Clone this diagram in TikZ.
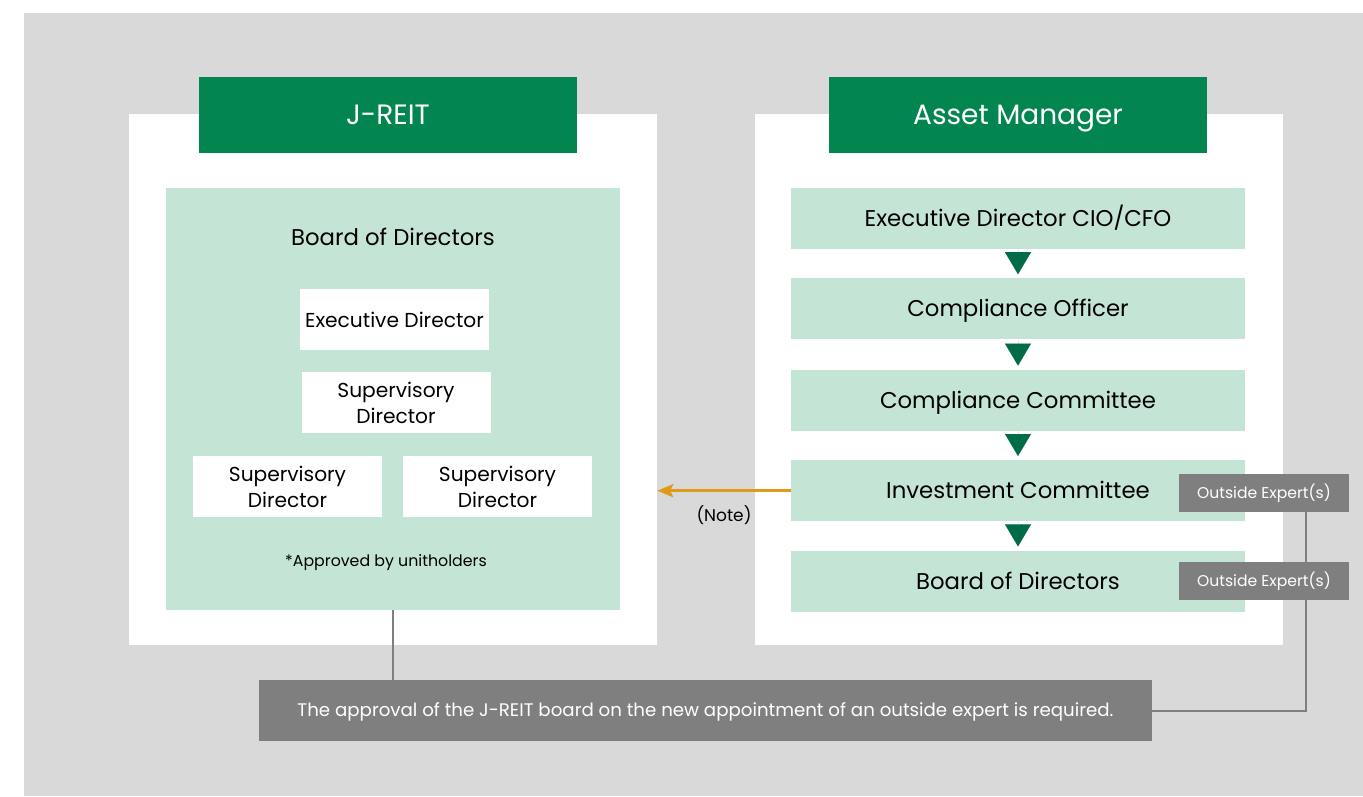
\documentclass[tikz,border=0pt]{standalone}
\usepackage{fontspec}
\setmainfont{Poppins}
\usetikzlibrary{arrows.meta,positioning}

\definecolor{bggrey}{HTML}{D9D9D9}
\definecolor{hdgreen}{HTML}{03854F}
\definecolor{mint}{HTML}{C4E5D5}
\definecolor{flowgreen}{HTML}{006B47}
\definecolor{boxgrey}{HTML}{7F7F7F}
\definecolor{notearrow}{HTML}{E09A1A}

\begin{document}
\begin{tikzpicture}[
  x=1pt,y=-1pt,
  font=\fontsize{22.8}{27}\selectfont,
  node distance=29pt,
  caps/.style={text height=#1,text depth=0pt},
  panel/.style={fill=white,inner sep=0pt,minimum width=528pt,minimum height=531pt},
  head/.style={caps=19.6pt,fill=hdgreen,text=white,inner sep=0pt,minimum width=378pt,minimum height=76pt,font=\fontsize{28}{32}\selectfont},
  mint/.style={caps=16pt,fill=mint,inner sep=0pt,minimum width=454pt,minimum height=61pt},
  wbox/.style={fill=white,inner sep=0pt,align=center,minimum width=189pt,minimum height=61pt,font=\fontsize{20.2}{26}\selectfont},
  expert/.style={caps=10.9pt,fill=boxgrey,text=white,inner sep=0pt,minimum width=170pt,minimum height=38pt,font=\fontsize{15.6}{18}\selectfont},
  link/.style={draw=boxgrey,line width=2pt},
  flow/.style={flowgreen,line width=0.01pt,shorten >=4pt,-{Triangle[length=22pt 0,width=26pt 0]}},
  notearr/.style={notearrow,line width=3pt,-{Stealth[length=16pt 0,width=13pt 0,inset=3pt]}}
]
% frame and background
\useasboundingbox (0,0) rectangle (1363,796);
\fill[bggrey] (24,13) rectangle (1363,796);

% J-REIT side
\node[panel] (jpanel) at (393,379.5) {};
\node[head] (jhead) at (388,115) {J-REIT};
\node[mint,minimum height=422pt] (jboard) at (393,399) {};
\node[caps=16pt] (jtitle) at (393,237) {Board of Directors};
\node[wbox] (exec) at (394.5,319.5) {Executive Director};
\node[wbox] (sup1) at (396,402.5) {Supervisory\\Director};
\node[wbox] (sup2) at (287.5,486.5) {Supervisory\\Director};
\node[wbox] (sup3) at (497.5,486.5) {Supervisory\\Director};
\node[caps=11pt,font=\fontsize{15.8}{18}\selectfont] (appr) at (386,561) {*Approved by unitholders};

% asset manager side
\node[panel] (apanel) at (1019,379.5) {};
\node[head] (ahead) at (1018,115) {Asset Manager};
\node[mint] (cio) at (1018,218.5) {Executive Director CIO/CFO};
\node[mint,below=of cio] (co) {Compliance Officer};
\node[mint,below=30pt of co] (cc) {Compliance Committee};
\node[mint,below=of cc] (ic) {Investment Committee};
\node[mint,below=of ic] (bod) {Board of Directors};
\draw[flow] (cio) -- (co);
\draw[flow] (co) -- (cc);
\draw[flow] (cc) -- (ic);
\draw[flow] (ic) -- (bod);

% note at the bottom
\node[caps=12.7pt,fill=boxgrey,text=white,inner sep=0pt,minimum width=893pt,minimum height=61pt,
  font=\fontsize{18.2}{21}\selectfont] (note) at (705.5,710.5)
  {The approval of the J-REIT board on the new appointment of an outside expert is required.};
\draw[link] (jboard.south) -- (jboard.south |- note.north);

% outside experts
\node[expert] (ex1) at (1264,493) {Outside Expert(s)};
\node[expert] (ex2) at (1264,581) {Outside Expert(s)};
\draw[link] ([xshift=-43pt]ex1.south east) -- ([xshift=-43pt]ex2.north east);
\draw[link] ([xshift=-43pt]ex2.south east) |- (note.east);

% reporting arrow
\draw[notearr] (ic.west) -- (jpanel.east |- ic.west);
\node[caps=12pt,font=\fontsize{17}{20}\selectfont] (notelbl) at (724,515) {(Note)};
\end{tikzpicture}
\end{document}
